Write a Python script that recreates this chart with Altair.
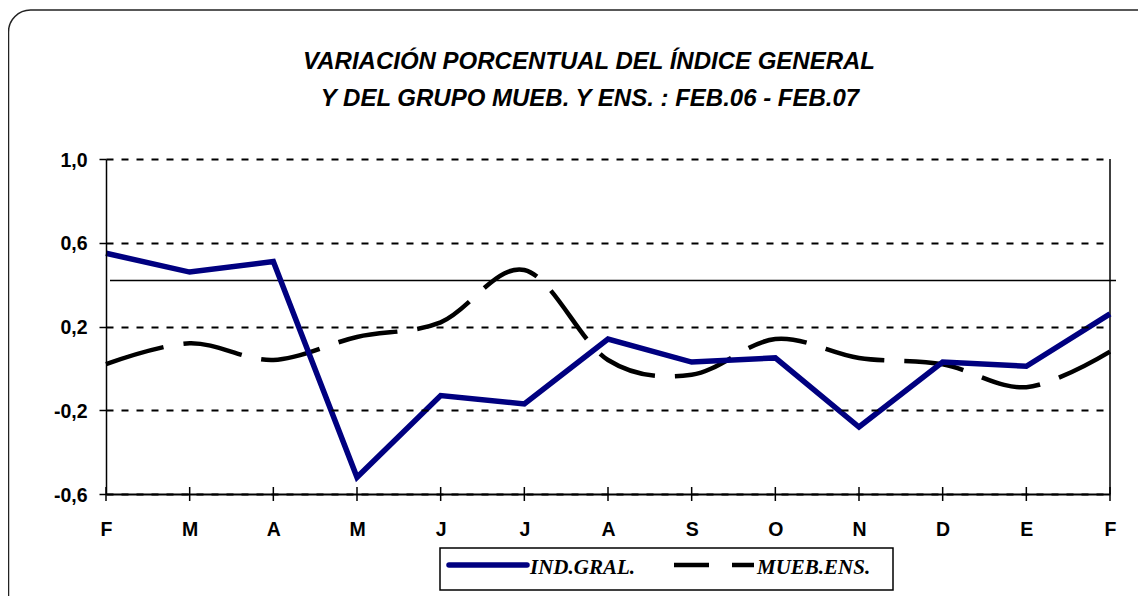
import altair as alt
import pandas as pd

# ---- data ----
MONTHS = ["Feb06", "Mar", "Abr", "May", "Jun", "Jul", "Ago", "Sep", "Oct", "Nov", "Dic", "Ene", "Feb07"]
IND_GRAL = [0.55, 0.46, 0.51, -0.52, -0.13, -0.17, 0.14, 0.03, 0.05, -0.28, 0.03, 0.01, 0.26]
MUEB_ENS = [0.02, 0.12, 0.04, 0.15, 0.22, 0.47, 0.04, -0.03, 0.14, 0.05, 0.02, -0.09, 0.08]
SERIES = ["IND.GRAL.", "MUEB.ENS."]
Y_TICKS = [-0.6, -0.2, 0.2, 0.6, 1.0]
REF_LINE = 0.42
TITLE = ["VARIACIÓN PORCENTUAL DEL ÍNDICE GENERAL",
         "Y DEL GRUPO MUEB. Y ENS. : FEB.06 - FEB.07"]

W, H = 1004, 335
LABEL_SIZE = 19.5

df = pd.DataFrame({
    "mes": MONTHS * 2,
    "serie": [SERIES[0]] * len(MONTHS) + [SERIES[1]] * len(MONTHS),
    "valor": IND_GRAL + MUEB_ENS,
})
months_df = pd.DataFrame({"mes": MONTHS})
one = pd.DataFrame({"k": [0]})

x_axis = alt.Axis(
    title=None, labelExpr="substring(datum.label, 0, 1)", labelAngle=0,
    ticks=False, tickSize=0, labelPadding=41, labelBaseline="alphabetic",
    labelFont="Liberation Sans", labelFontWeight="bold", labelFontSize=LABEL_SIZE,
    labelColor="black", domainColor="black", domainWidth=2, grid=False,
    zindex=1,
)
y_axis = alt.Axis(
    title=None, values=Y_TICKS,
    labelExpr="(datum.value < 0 ? '-' : '') + replace(format(abs(datum.value), '.1f'), '.', ',')",
    grid=True, gridDash=[7, 8], gridColor="black", gridWidth=2, gridOpacity=1,
    domainColor="black", domainWidth=1.5,
    tickColor="black", tickSize=7, tickWidth=1.5,
    labelFont="Liberation Sans", labelFontWeight="bold", labelFontSize=LABEL_SIZE,
    labelColor="black", labelPadding=12, labelOffset=1, zindex=1,
)


def X():
    return alt.X("mes:O", sort=MONTHS, scale=alt.Scale(type="point", padding=0), axis=x_axis)


def Y():
    return alt.Y("valor:Q", scale=alt.Scale(domain=[-0.6, 1.0], nice=False, zero=False), axis=y_axis)


base = alt.Chart(df)

frame = alt.Chart(one).mark_rect(
    cornerRadius=22, fill="white", fillOpacity=0, stroke="#222222", strokeWidth=1.5
).encode(x=alt.value(-97.5), x2=alt.value(1100), y=alt.value(-149), y2=alt.value(470))

ref_line = alt.Chart(one).mark_rule(color="black", strokeWidth=1.5).encode(
    y=alt.datum(REF_LINE), x=alt.value(4), x2=alt.value(1010)
)

right_border = alt.Chart(one).mark_rule(color="black", strokeWidth=1.5).encode(
    x=alt.value(W), y=alt.value(0), y2=alt.value(H)
)

x_ticks = alt.Chart(months_df).mark_rule(color="black", strokeWidth=1.5).encode(
    x=X(), y=alt.value(H - 7), y2=alt.value(H + 7)
)

line_mueb = base.transform_filter(alt.datum.serie == SERIES[1]).mark_line(
    color="black", strokeWidth=4.5, strokeDash=[60, 20], interpolate="cardinal"
).encode(x=X(), y=Y())

line_gral = base.transform_filter(alt.datum.serie == SERIES[0]).mark_line(
    color="#000080", strokeWidth=5.5, strokeJoin="miter"
).encode(x=X(), y=Y())

title1 = alt.Chart(one).mark_text(
    font="Liberation Sans", fontStyle="italic", fontWeight="bold", fontSize=24,
    align="center", baseline="alphabetic", color="black"
).encode(x=alt.value(483), y=alt.value(-90), text=alt.value(TITLE[0]))
title2 = alt.Chart(one).mark_text(
    font="Liberation Sans", fontStyle="italic", fontWeight="bold", fontSize=24,
    align="center", baseline="alphabetic", color="black"
).encode(x=alt.value(484), y=alt.value(-53), text=alt.value(TITLE[1]))

# legend
leg_box = alt.Chart(one).mark_rect(fill="white", stroke="black", strokeWidth=1.5).encode(
    x=alt.value(334), x2=alt.value(787), y=alt.value(389), y2=alt.value(431)
)
leg_line1 = alt.Chart(one).mark_rule(color="#000080", strokeWidth=5.5, strokeCap="round").encode(
    x=alt.value(343), x2=alt.value(421), y=alt.value(406)
)
leg_line2 = alt.Chart(one).mark_rule(color="black", strokeWidth=4.5, strokeDash=[35, 23]).encode(
    x=alt.value(568), x2=alt.value(648), y=alt.value(406)
)
leg_text1 = alt.Chart(one).mark_text(
    font="Liberation Serif", fontStyle="italic", fontWeight="bold", fontSize=21,
    align="left", baseline="alphabetic", color="black"
).encode(x=alt.value(424), y=alt.value(415), text=alt.value(SERIES[0]))
leg_text2 = alt.Chart(one).mark_text(
    font="Liberation Serif", fontStyle="italic", fontWeight="bold", fontSize=21,
    align="left", baseline="alphabetic", color="black"
).encode(x=alt.value(651), y=alt.value(415), text=alt.value(SERIES[1]))

chart = alt.layer(
    frame, line_mueb, ref_line, right_border, x_ticks, line_gral,
    title1, title2, leg_box, leg_line1, leg_line2, leg_text1, leg_text2,
).properties(
    width=W, height=H,
    autosize=alt.AutoSizeParams(type="none"),
    padding={"left": 98, "top": 151, "right": 28, "bottom": 102},
    background="white",
).configure_view(stroke=None).configure_axis(
    labelFont="Liberation Sans", labelFontWeight="bold", labelFontSize=LABEL_SIZE, labelColor="black"
)

chart.save("out.html", embed_options={"renderer": "svg", "actions": False})
